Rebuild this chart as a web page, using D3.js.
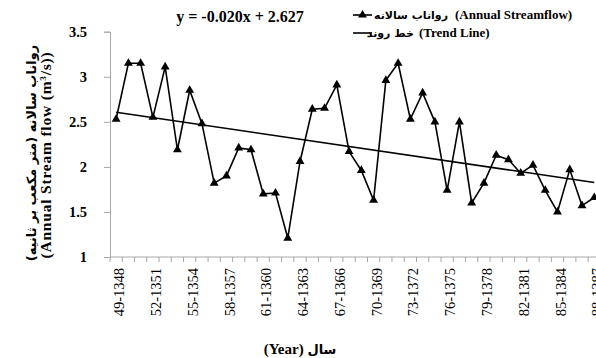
<!DOCTYPE html>
<html><head><meta charset="utf-8">
<script src="https://cdn.jsdelivr.net/npm/d3@7"></script>
<style>
html,body{margin:0;padding:0;background:#fff;}
svg{display:block;}
</style></head>
<body>
<svg id="chart" width="596" height="358"></svg>
<script>
// Water years 1348-49 ... 1387-88
const categories = ["49-1348","50-1349","51-1350","52-1351","53-1352","54-1353","55-1354","56-1355","57-1356","58-1357",
  "59-1358","60-1359","61-1360","62-1361","63-1362","64-1363","65-1364","66-1365","67-1366","68-1367",
  "69-1368","70-1369","71-1370","72-1371","73-1372","74-1373","75-1374","76-1375","77-1376","78-1377",
  "79-1378","80-1379","81-1380","82-1381","83-1382","84-1383","85-1384","86-1385","87-1386","88-1387"];
const streamflow = [2.53,3.15,3.15,2.55,3.11,2.19,2.85,2.48,1.82,1.90,
  2.21,2.19,1.70,1.71,1.21,2.06,2.64,2.65,2.91,2.17,
  1.96,1.63,2.96,3.15,2.53,2.82,2.50,1.74,2.50,1.60,
  1.82,2.13,2.08,1.93,2.02,1.74,1.50,1.97,1.57,1.66];
const shownTickLabels = ["49-1348","52-1351","55-1354","58-1357","61-1360","64-1363","67-1366","70-1369",
  "73-1372","76-1375","79-1378","82-1381","85-1384","88-1387"];
const trendCategories = ["49-1348","88-1387"];
const trendValues = [2.607, 1.827];
const yTicks = [1, 1.5, 2, 2.5, 3, 3.5];
const equationText = "y = -0.020x + 2.627";

const SERIF = "Liberation Serif";
const ARAB = "DejaVu Sans";

const svg = d3.select("#chart");
const plotLeft = 110, band = 12.26;
const plotRight = plotLeft + band * categories.length;
const plotTop = 31.7, plotBottom = 257;

const x = d3.scaleBand().domain(categories).range([plotLeft, plotRight]);
const y = d3.scaleLinear().domain([1, 3.5]).range([plotBottom, plotTop]);
const cx = d => x(d) + x.bandwidth() / 2;

// Y axis
const yAxis = svg.append("g").attr("transform", `translate(${plotLeft},0)`)
  .call(d3.axisLeft(y).tickValues(yTicks).tickSize(6).tickPadding(17).tickFormat(d => d3.format("")(d)));
yAxis.attr("font-family", null).attr("font-size", null);
yAxis.select(".domain").attr("stroke", "#a6a6a6");
yAxis.selectAll(".tick line").attr("stroke", "#a6a6a6");
yAxis.selectAll(".tick text").style("font-family", SERIF).style("font-size", "14.5px")
  .style("font-weight", "bold").attr("fill", "#000");

// X axis with ticks between categories
const xg = svg.append("g");
xg.append("line").attr("x1", plotLeft).attr("x2", plotRight).attr("y1", plotBottom).attr("y2", plotBottom)
  .attr("stroke", "#a6a6a6");
xg.selectAll("line.t").data(d3.range(categories.length + 1)).join("line").attr("class", "t")
  .attr("x1", i => plotLeft + i * x.step()).attr("x2", i => plotLeft + i * x.step())
  .attr("y1", plotBottom).attr("y2", plotBottom + 5).attr("stroke", "#a6a6a6");
xg.selectAll("text").data(shownTickLabels).join("text")
  .attr("transform", d => `translate(${cx(d) + 3},${plotBottom + 11}) rotate(-90)`)
  .attr("text-anchor", "end").attr("dy", "0.35em")
  .style("font-family", SERIF).style("font-size", "14.5px").text(d => d);

// Trend line
svg.append("line")
  .attr("x1", cx(trendCategories[0])).attr("y1", y(trendValues[0]))
  .attr("x2", cx(trendCategories[1])).attr("y2", y(trendValues[1]))
  .attr("stroke", "#000").attr("stroke-width", 1.6);

// Streamflow line
const line = d3.line().x((d, i) => cx(categories[i])).y(d => y(d));
svg.append("path").datum(streamflow).attr("d", line)
  .attr("fill", "none").attr("stroke", "#000").attr("stroke-width", 1.6);
const tri = d3.symbol().type(d3.symbolTriangle).size(34);
svg.selectAll("path.m").data(streamflow).join("path").attr("class", "m")
  .attr("d", tri)
  .attr("transform", (d, i) => `translate(${cx(categories[i])},${y(d)})`)
  .attr("fill", "#000");

// Equation
svg.append("text").attr("x", 240).attr("y", 22).attr("text-anchor", "middle")
  .style("font-family", SERIF).style("font-size", "16px").style("font-weight", "bold").text(equationText);

// Legend
const lg = svg.append("g");
lg.append("line").attr("x1", 353).attr("x2", 372).attr("y1", 15).attr("y2", 15)
  .attr("stroke", "#000").attr("stroke-width", 1.6);
lg.append("path").attr("d", tri).attr("transform", "translate(362.5,15)");
lg.append("text").attr("x", 448).attr("y", 19).attr("text-anchor", "start")
  .attr("direction", "rtl").style("direction", "rtl")
  .style("font-family", ARAB).style("font-size", "11px").style("font-weight", "bold").text("رواناب سالانه");
lg.append("text").attr("x", 455).attr("y", 19)
  .style("font-family", SERIF).style("font-size", "13px").style("font-weight", "bold")
  .text("(Annual Streamflow)");
lg.append("line").attr("x1", 353).attr("x2", 372).attr("y1", 33).attr("y2", 33)
  .attr("stroke", "#000").attr("stroke-width", 1.6);
lg.append("text").attr("x", 414).attr("y", 37).attr("text-anchor", "start")
  .attr("direction", "rtl").style("direction", "rtl")
  .style("font-family", ARAB).style("font-size", "11px").style("font-weight", "bold").text("خط روند");
lg.append("text").attr("x", 419).attr("y", 37)
  .style("font-family", SERIF).style("font-size", "13px").style("font-weight", "bold")
  .text("(Trend Line)");

// X axis title
const xt = svg.append("text").attr("x", 300).attr("y", 354).attr("text-anchor", "middle")
  .style("font-family", SERIF).style("font-size", "15px").style("font-weight", "bold");
xt.append("tspan").text("(Year) ");
xt.append("tspan").style("font-family", ARAB).style("font-size", "13px").text("سال");

// Y axis title
const ymid = 153;
svg.append("text").attr("transform", `translate(31,${ymid}) rotate(-90)`)
  .attr("text-anchor", "middle").attr("direction", "rtl").style("direction", "rtl").attr("dy", "0.35em")
  .style("font-family", ARAB).style("font-size", "13px").style("font-weight", "bold")
  .text("رواناب سالانه (متر مکعب بر ثانیه)");
const yt = svg.append("text").attr("transform", `translate(46,${ymid + 2}) rotate(-90)`)
  .attr("text-anchor", "middle").attr("dy", "0.35em")
  .style("font-family", SERIF).style("font-size", "15.5px").style("font-weight", "bold")
  .style("letter-spacing", "0.8px");
yt.append("tspan").text("(Annual Stream flow (m");
yt.append("tspan").style("font-size", "9px").attr("baseline-shift", "super").text("3");
yt.append("tspan").text("/s))");
</script>
</body></html>
